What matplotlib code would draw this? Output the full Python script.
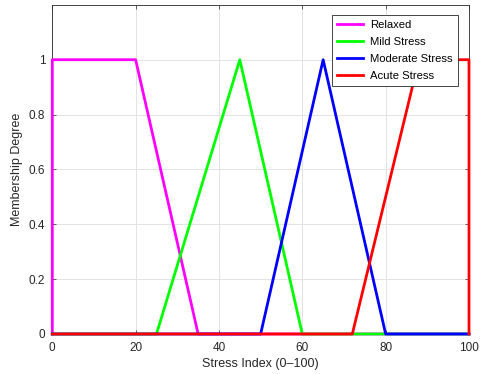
import matplotlib
matplotlib.use("Agg")
import matplotlib.pyplot as plt

# membership function breakpoints (x, degree)
relaxed_x = [0, 0, 20, 35, 100]
relaxed_y = [0, 1, 1, 0, 0]
mild_x = [0, 25, 45, 60, 100]
mild_y = [0, 0, 1, 0, 0]
moderate_x = [0, 50, 65, 80, 100]
moderate_y = [0, 0, 1, 0, 0]
acute_x = [0, 72, 88, 100, 100]
acute_y = [0, 0, 1, 1, 0]

names = ["Relaxed", "Mild Stress", "Moderate Stress", "Acute Stress"]
colors = ["#ff00ff", "#00ff00", "#0000ff", "#ff0000"]

plt.rcParams["font.family"] = ["Liberation Sans", "DejaVu Sans"]
plt.rcParams["font.size"] = 8

fig = plt.figure(figsize=(4.82, 3.74), dpi=100)
ax = fig.add_axes([0.1085, 0.107, 0.8645, 0.88])

ax.plot(relaxed_x, relaxed_y, color=colors[0], lw=2, label=names[0], clip_on=False, zorder=3)
ax.plot(mild_x, mild_y, color=colors[1], lw=2, label=names[1], clip_on=False, zorder=3)
ax.plot(moderate_x, moderate_y, color=colors[2], lw=2, label=names[2], clip_on=False, zorder=3)
ax.plot(acute_x, acute_y, color=colors[3], lw=2, label=names[3], clip_on=False, zorder=3)

ax.set_xlim(0, 100)
ax.set_ylim(0, 1.2)
ax.set_xticks([0, 20, 40, 60, 80, 100])
ax.set_yticks([0, 0.2, 0.4, 0.6, 0.8, 1])
ax.set_yticklabels(["0", "0.2", "0.4", "0.6", "0.8", "1"])
ax.grid(True, color="#e3e3e3", lw=0.7)
ax.set_axisbelow(True)
for s in ax.spines.values():
    s.set_color("#262626")
    s.set_linewidth(0.6)
ax.tick_params(direction="in", length=3, width=0.5, color="#262626",
               labelcolor="#262626", labelsize=8.5, top=True, right=True)
ax.tick_params(axis="x", pad=6)
ax.tick_params(axis="y", pad=5)

ax.set_xlabel("Stress Index (0\u2013100)", fontsize=9, color="#262626", labelpad=3)
ax.set_ylabel("Membership Degree", fontsize=9, color="#262626", labelpad=4)

leg = ax.legend(loc="upper right", bbox_to_anchor=(0.974, 0.970), borderaxespad=0,
                fancybox=False, framealpha=1, edgecolor="#262626", fontsize=8.1,
                handlelength=2.3, handletextpad=0.6, borderpad=0.5,
                labelspacing=0.6)
leg.get_frame().set_linewidth(0.6)
leg.set_zorder(5)

plt.savefig("out.png", dpi=100)
